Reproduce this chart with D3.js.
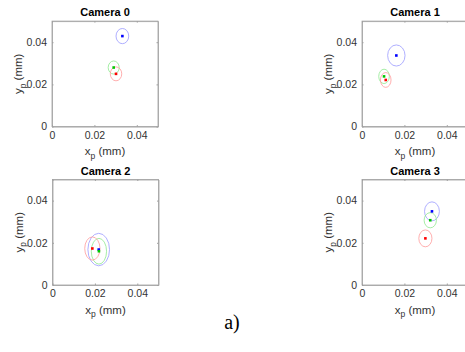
<!DOCTYPE html>
<html><head><meta charset="utf-8">
<script src="https://cdn.jsdelivr.net/npm/d3@7"></script>
<style>body{margin:0;background:#fff;}svg{display:block;}</style>
</head><body>
<svg id="c" width="465" height="352"></svg>
<script>
const cameras = ["Camera 0","Camera 1","Camera 2","Camera 3"];
const seriesColors = ["blue","green","red"];
const tickValues = [0, 0.02, 0.04];
const tickLabels = ["0","0.02","0.04"];
// centers [blue, green, red] per camera
const centerX = [[0.0332,0.0291,0.0302],[0.0162,0.0104,0.0112],[0.0218,0.0219,0.0188],[0.0330,0.0322,0.0299]];
const centerY = [[0.0429,0.0280,0.0250],[0.0337,0.0238,0.0221],[0.0168,0.0160,0.0173],[0.0349,0.0307,0.0221]];
const radiusX = [[0.0030,0.0026,0.0027],[0.0041,0.0025,0.0025],[0.0051,0.0036,0.0036],[0.0035,0.0029,0.0031]];
const radiusY = [[0.0036,0.0031,0.0033],[0.0050,0.0034,0.0035],[0.0077,0.0061,0.0055],[0.0045,0.0036,0.0040]];

const ellipseCol = {blue:"#9a9aff", green:"#8fe88f", red:"#ff9a9a"};
const pointCol = {blue:"#0000ff", green:"#00c800", red:"#ff0000"};
const svg = d3.select("#c");
const origins = [[52,126.6],[362,126.6],[52.5,285],[362,285]];
const W = 106, H = 105.5;
const font = "Liberation Sans, Arial, sans-serif";

cameras.forEach((name, i) => {
  const [ox, oy] = origins[i];
  const x = d3.scaleLinear().domain([0,0.05]).range([ox, ox+W]);
  const y = d3.scaleLinear().domain([0,0.05]).range([oy, oy-H]);
  const g = svg.append("g");
  g.append("rect").attr("x", ox).attr("y", oy-H).attr("width", W).attr("height", H)
    .attr("fill","#fff").attr("stroke","#a0a0a0").attr("stroke-width",0.8);
  const axB = d3.axisBottom(x).tickValues(tickValues).tickFormat((d,k)=>tickLabels[k]).tickSizeInner(-1.5).tickSizeOuter(0).tickPadding(5);
  const axL = d3.axisLeft(y).tickValues(tickValues).tickFormat((d,k)=>tickLabels[k]).tickSizeInner(-1.5).tickSizeOuter(0).tickPadding(5);
  const axT = d3.axisTop(x).tickValues(tickValues).tickFormat("").tickSizeInner(-1.5).tickSizeOuter(0);
  const axR = d3.axisRight(y).tickValues(tickValues).tickFormat("").tickSizeInner(-1.5).tickSizeOuter(0);
  [[axB,`translate(0,${oy})`],[axL,`translate(${ox},0)`],[axT,`translate(0,${oy-H})`],[axR,`translate(${ox+W},0)`]].forEach(([ax,tr])=>{
    const a = g.append("g").attr("transform", tr).call(ax);
    a.select(".domain").attr("stroke","#a0a0a0").attr("stroke-width",0.8);
    a.selectAll(".tick line").attr("stroke","#a0a0a0");
    a.selectAll("text").attr("font-family", font).attr("font-size", 10.5).attr("fill","#333");
  });
  g.append("text").attr("x", ox+W/2).attr("y", oy-H-5).attr("text-anchor","middle")
    .attr("font-family", font).attr("font-weight","bold").attr("font-size", 11).attr("fill","#000").text(name);
  const xl = g.append("text").attr("x", ox+W/2).attr("y", oy+28.5).attr("text-anchor","middle")
    .attr("font-family", font).attr("font-size", 11.5).attr("fill","#333");
  xl.append("tspan").text("x");
  xl.append("tspan").attr("dy", 3.5).attr("font-size", 8.5).text("p");
  xl.append("tspan").attr("dy", -3.5).text(" (mm)");
  const yl = g.append("text").attr("transform", `translate(${ox-30},${oy-H/2}) rotate(-90)`).attr("text-anchor","middle")
    .attr("font-family", font).attr("font-size", 11.5).attr("fill","#333");
  yl.append("tspan").text("y");
  yl.append("tspan").attr("dy", 3.5).attr("font-size", 8.5).text("p");
  yl.append("tspan").attr("dy", -3.5).text(" (mm)");
  seriesColors.forEach((c, j) => {
    g.append("ellipse")
      .attr("cx", x(centerX[i][j])).attr("cy", y(centerY[i][j]))
      .attr("rx", x(radiusX[i][j]) - x(0)).attr("ry", y(0) - y(radiusY[i][j]))
      .attr("fill","none").attr("stroke", ellipseCol[c]).attr("stroke-width", 0.8);
  });
  seriesColors.forEach((c, j) => {
    g.append("rect")
      .attr("x", x(centerX[i][j]) - 1.3).attr("y", y(centerY[i][j]) - 1.3)
      .attr("width", 2.6).attr("height", 2.6).attr("fill", pointCol[c]);
  });
});

svg.append("text").attr("x", 232).attr("y", 329).attr("text-anchor","middle")
  .attr("font-family","Liberation Serif, Times New Roman, serif").attr("font-size", 20).attr("fill","#000").text("a)");
</script>
</body></html>
